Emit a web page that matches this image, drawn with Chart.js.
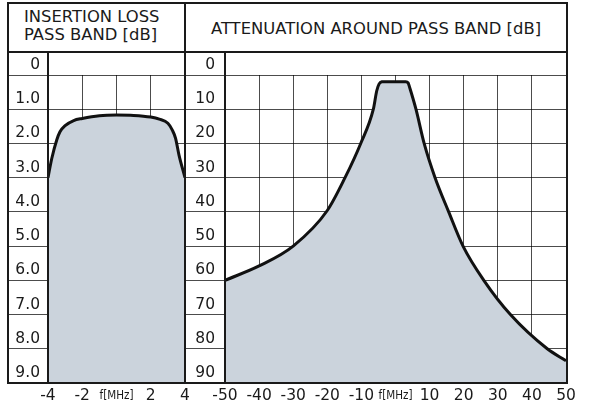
<!DOCTYPE html>
<html>
<head>
<meta charset="utf-8">
<script src="https://cdn.jsdelivr.net/npm/chart.js@4.4.1/dist/chart.umd.min.js"></script>
<style>
  body { margin: 0; background: #fff; }
  #pagina { position: relative; width: 600px; height: 412px; overflow: hidden; font-family: 'DejaVu Sans', sans-serif; color: #1a1a1a; }
  .linea { position: absolute; background: #1a1a1a; }
  .titulo { position: absolute; font-size: 16.4px; white-space: nowrap; }
  canvas { position: absolute; }
</style>
</head>
<body>
<div id="pagina">
  <div class="titulo" style="left:24px; top:8px; line-height:18px;">INSERTION LOSS<br>PASS BAND [dB]</div>
  <div class="titulo" style="left:186px; top:19px; width:380px; text-align:center; line-height:20px;">ATTENUATION AROUND PASS BAND [dB]</div>

  <canvas id="perdidaChart" width="192" height="360" style="left:8px; top:52px;"></canvas>
  <canvas id="atenuacionChart" width="415" height="360" style="left:185px; top:52px;"></canvas>

  <!-- marco y separadores -->
  <div style="position:absolute; left:7px; top:2px; width:561px; height:382px; border:2px solid #1a1a1a; box-sizing:border-box;"></div>
  <div class="linea" style="left:7px; top:51px; width:561px; height:2px;"></div>
  <div class="linea" style="left:184px; top:2px; width:2px; height:382px;"></div>
  <div class="linea" style="left:47px; top:52px; width:2px; height:331px;"></div>
  <div class="linea" style="left:224px; top:52px; width:2px; height:331px;"></div>
</div>

<script>
// Datos: pérdida de inserción en banda de paso
const frecBandaPaso = [-4, -3.78, -3.49, -3.3, -3.0, -2.5, -2.0, -1.0, 0, 1.0, 2.0, 2.5, 3.0, 3.26, 3.45, 3.65, 4];
const perdidaDb = [3.0, 2.44, 1.9, 1.66, 1.48, 1.33, 1.27, 1.19, 1.17, 1.18, 1.23, 1.29, 1.41, 1.61, 1.85, 2.34, 3.0];

// Datos: atenuación alrededor de la banda de paso
const frecAmplia = [-50, -40, -30, -20, -14.8, -10.2, -6.5, -5.5, -4.8, -4.0, -3.2, 0, 3.0, 3.7, 4.2, 6.0, 8.4, 11.6, 15.6, 19.8, 25.9, 33.7, 44.5, 50];
const atenuacionDb = [60, 55.8, 50, 39.6, 30, 20, 10, 4.6, 2.6, 2.0, 1.95, 1.95, 1.95, 2.3, 3.8, 10, 20, 30, 40, 50, 60, 70, 80, 83.5];

// Marcas de los ejes
const ticksPerdida = [0, 1, 2, 3, 4, 5, 6, 7, 8, 9];
const etiquetasPerdida = ['0', '1.0', '2.0', '3.0', '4.0', '5.0', '6.0', '7.0', '8.0', '9.0'];
const ticksAtenuacion = [0, 10, 20, 30, 40, 50, 60, 70, 80, 90];
const etiquetasAtenuacion = ['0', '10', '20', '30', '40', '50', '60', '70', '80', '90'];
const ticksFrecPaso = [-4, -2, 0, 2, 4];
const etiquetasFrecPaso = ['-4', '-2', 'f[MHz]', '2', '4'];
const ticksFrecAmplia = [-50, -40, -30, -20, -10, 0, 10, 20, 30, 40, 50];
const etiquetasFrecAmplia = ['-50', '-40', '-30', '-20', '-10', 'f[MHz]', '10', '20', '30', '40', '50'];

const FUENTE = "'DejaVu Sans', sans-serif";
const COLOR_GRILLA = 'rgba(0, 0, 0, 0.7)';
const COLOR_RELLENO = '#cbd3dc';
const COLOR_TEXTO = '#1a1a1a';

function crearGrafico(id, xs, ys, xTicks, xEtiquetas, yTicks, yEtiquetas, paddingDerecho, paddingEtiquetaY) {
    const xMin = xTicks[0];
    const xMax = xTicks[xTicks.length - 1];
    const yMax = yTicks[yTicks.length - 1];

    return new Chart(document.getElementById(id), {
        type: 'line',
        data: {
            datasets: [{
                data: xs.map((x, i) => ({ x: x, y: ys[i] })),
                borderColor: '#111',
                borderWidth: 3,
                pointRadius: 0,
                backgroundColor: COLOR_RELLENO,
                fill: { value: yMax },
                cubicInterpolationMode: 'monotone'
            }]
        },
        options: {
            responsive: false,
            animation: false,
            events: [],
            layout: { padding: { left: 0, top: 23, right: paddingDerecho, bottom: 0 } },
            plugins: {
                legend: { display: false },
                tooltip: { enabled: false }
            },
            scales: {
                x: {
                    type: 'linear',
                    min: xMin,
                    max: xMax,
                    z: 1,
                    afterBuildTicks: s => { s.ticks = xTicks.map(v => ({ value: v })); },
                    afterFit: s => { s.height = 29; },
                    border: { display: false },
                    grid: { color: COLOR_GRILLA, lineWidth: 1, drawTicks: false },
                    ticks: {
                        autoSkip: false,
                        maxRotation: 0,
                        padding: 4,
                        color: COLOR_TEXTO,
                        // la etiqueta f[MHz] va en letra pequeña, centrada con las demás
                        font: ctx => (ctx.tick && ctx.tick.value === 0)
                            ? { family: "'DejaVu Sans Condensed', sans-serif", size: 11.5, lineHeight: 1.62 }
                            : { family: FUENTE, size: 15.5, lineHeight: 1.2 },
                        callback: v => xEtiquetas[xTicks.indexOf(v)]
                    }
                },
                y: {
                    type: 'linear',
                    reverse: true,
                    min: 0,
                    max: yMax,
                    z: 1,
                    afterBuildTicks: s => { s.ticks = yTicks.map(v => ({ value: v })); },
                    afterFit: s => { s.width = 40; },
                    border: { display: false },
                    grid: { color: COLOR_GRILLA, lineWidth: 1, drawTicks: true, tickLength: 40, tickColor: COLOR_GRILLA },
                    ticks: {
                        padding: paddingEtiquetaY,
                        labelOffset: -10,
                        color: COLOR_TEXTO,
                        font: { family: FUENTE, size: 15.5 },
                        callback: v => yEtiquetas[yTicks.indexOf(v)]
                    }
                }
            }
        }
    });
}

crearGrafico('perdidaChart', frecBandaPaso, perdidaDb, ticksFrecPaso, etiquetasFrecPaso, ticksPerdida, etiquetasPerdida, 15, -32);
crearGrafico('atenuacionChart', frecAmplia, atenuacionDb, ticksFrecAmplia, etiquetasFrecAmplia, ticksAtenuacion, etiquetasAtenuacion, 34, -30);
</script>
</body>
</html>
